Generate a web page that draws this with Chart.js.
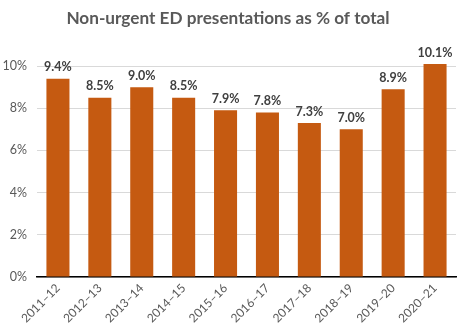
<!DOCTYPE html>
<html><head><meta charset="utf-8">
<script src="https://cdn.jsdelivr.net/npm/chart.js@4"></script>
<style>html,body{margin:0;padding:0;background:#fff}#wrap{width:467px;height:328px}</style>
</head><body><div id="wrap"><canvas id="c"></canvas></div>
<script>
const categories = ["2011–12","2012–13","2013–14","2014–15","2015–16","2016–17","2017–18","2018–19","2019–20","2020–21"];
const values = [9.4, 8.5, 9.0, 8.5, 7.9, 7.8, 7.3, 7.0, 8.9, 10.1];
const yTicks = [0, 2, 4, 6, 8, 10];
const titleText = "Non-urgent ED presentations as % of total";
const FONT = 'Lato, "Open Sans", sans-serif';

const labelPlugin = {
  id: 'barLabels',
  afterDatasetsDraw(chart) {
    const ctx = chart.ctx;
    const meta = chart.getDatasetMeta(0);
    ctx.save();
    ctx.font = 'bold 12.5px ' + FONT;
    ctx.fillStyle = '#404040';
    ctx.textAlign = 'center';
    ctx.textBaseline = 'bottom';
    meta.data.forEach((bar, i) => {
      ctx.fillText(values[i].toFixed(1) + '%', bar.x, bar.y - 5);
    });
    ctx.restore();
  }
};

new Chart(document.getElementById('c'), {
  type: 'bar',
  data: {
    labels: categories,
    datasets: [{
      data: values,
      backgroundColor: '#C55A11',
      barPercentage: 0.55,
      categoryPercentage: 1.0,
      clip: false
    }]
  },
  options: {
    responsive: true,
    maintainAspectRatio: false,
    animation: false,
    devicePixelRatio: 1,
    layout: { padding: { top: 0, right: 11, bottom: 0, left: 0 } },
    plugins: {
      legend: { display: false },
      tooltip: { enabled: false },
      title: {
        display: true,
        text: titleText,
        color: '#595959',
        font: { family: FONT, size: 17.2, weight: 'bold' },
        padding: { top: 8, bottom: 37.4 }
      }
    },
    scales: {
      x: {
        grid: { display: false, drawTicks: false },
        border: { display: true, color: '#000000', width: 1.5 },
        ticks: {
          color: '#595959',
          font: { family: FONT, size: 12 },
          minRotation: 45, maxRotation: 45, padding: 4
        },
        afterFit(scale) { scale.height = 51; }
      },
      y: {
        min: 0, max: 10,
        afterBuildTicks(scale) { scale.ticks = yTicks.map(v => ({ value: v })); },
        grid: { color: '#d9d9d9', drawTicks: false, lineWidth: 1 },
        border: { display: false },
        ticks: {
          color: '#595959',
          font: { family: FONT, size: 12.5 },
          padding: 10,
          callback: v => v + '%'
        },
        afterFit(scale) { scale.width = 37; }
      }
    }
  },
  plugins: [labelPlugin]
});
</script></body></html>
